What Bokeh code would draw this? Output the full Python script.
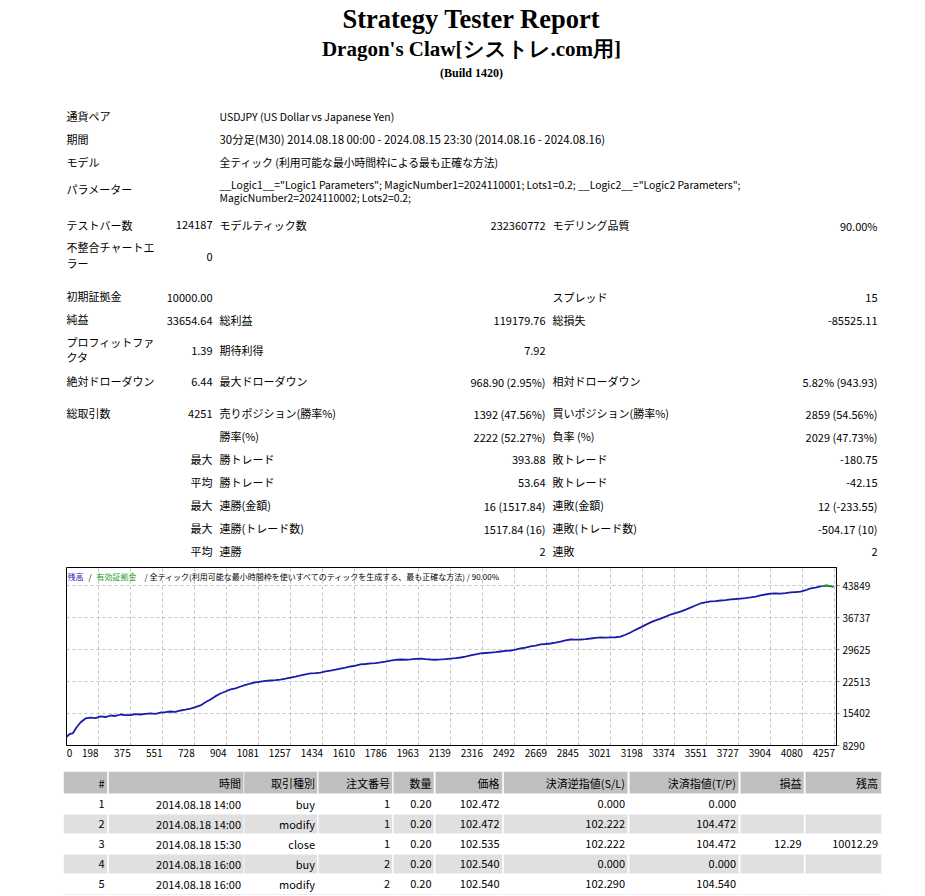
from bokeh.plotting import figure
from bokeh.models import Range1d, FixedTicker, Spacer
from bokeh.layouts import column, row
from bokeh.embed import file_html
from bokeh.resources import INLINE
from bokeh.core.properties import value

JP = "Noto Sans CJK JP"
SERIF = "Liberation Serif"

# ---------------- data ----------------
report_title = "Strategy Tester Report"
report_subtitle = "Dragon's Claw[シストレ.com用]"
report_build = "(Build 1420)"

info_labels = ["通貨ペア", "期間", "モデル", "パラメーター"]
info_pair = "USDJPY (US Dollar vs Japanese Yen)"
info_period = "30分足(M30) 2014.08.18 00:00 - 2024.08.15 23:30 (2014.08.16 - 2024.08.16)"
info_model = "全ティック (利用可能な最小時間枠による最も正確な方法)"
info_params = [
    "__Logic1__=\"Logic1 Parameters\"; MagicNumber1=2024110001; Lots1=0.2; __Logic2__=\"Logic2 Parameters\";",
    "MagicNumber2=2024110002; Lots2=0.2;",
]

col1_labels = ["テストバー数", "不整合チャートエ", "ラー", "初期証拠金", "純益", "プロフィットファ", "クタ",
               "絶対ドローダウン", "総取引数"]
col1_values = ["124187", "0", "10000.00", "33654.64", "1.39", "6.44", "4251",
               "最大", "平均", "最大", "最大", "平均"]
col2_labels = ["モデルティック数", "総利益", "期待利得", "最大ドローダウン", "売りポジション(勝率%)", "勝率(%)",
               "勝トレード", "勝トレード", "連勝(金額)", "連勝(トレード数)", "連勝"]
col2_values = ["232360772", "119179.76", "7.92", "968.90 (2.95%)", "1392 (47.56%)", "2222 (52.27%)",
               "393.88", "53.64", "16 (1517.84)", "1517.84 (16)", "2"]
col3_labels = ["モデリング品質", "スプレッド", "総損失", "相対ドローダウン", "買いポジション(勝率%)", "負率 (%)",
               "敗トレード", "敗トレード", "連敗(金額)", "連敗(トレード数)", "連敗"]
col3_values = ["90.00%", "15", "-85525.11", "5.82% (943.93)", "2859 (54.56%)", "2029 (47.73%)",
               "-180.75", "-42.15", "12 (-233.55)", "-504.17 (10)", "2"]

chart_legend = ["残高", "/", "有効証拠金",
                "/ 全ティック(利用可能な最小時間枠を使いすべてのティックを生成する、最も正確な方法) / 90.00%"]

trade_idx = [0, 20, 40, 55, 75, 98, 125, 153, 180, 208, 235, 263, 290, 318, 345, 373, 400, 428, 455, 483,
             510, 539, 566, 594, 620, 649, 676, 704, 730, 759, 786, 814, 840, 869, 897, 925, 952, 980, 1008,
             1035, 1062, 1090, 1118, 1145, 1172, 1200, 1228, 1256, 1283, 1311, 1338, 1366, 1393, 1421, 1448,
             1476, 1503, 1531, 1558, 1586, 1614, 1642, 1669, 1697, 1724, 1752, 1780, 1807, 1834, 1862, 1890,
             1917, 1945, 1972, 2000, 2028, 2055, 2083, 2110, 2138, 2165, 2193, 2220, 2248, 2276, 2303, 2330,
             2358, 2386, 2414, 2441, 2469, 2496, 2524, 2551, 2579, 2606, 2634, 2662, 2689, 2716, 2744, 2772,
             2800, 2827, 2855, 2882, 2910, 2938, 2965, 2992, 3020, 3048, 3075, 3102, 3130, 3158, 3186, 3213,
             3241, 3268, 3296, 3324, 3351, 3378, 3406, 3434, 3461, 3488, 3516, 3544, 3572, 3599, 3627, 3654,
             3682, 3710, 3737, 3764, 3792, 3820, 3847, 3874, 3902, 3930, 3958, 3985, 4013, 4040, 4068, 4096,
             4123, 4150, 4178, 4195, 4211, 4228, 4244, 4251]
balance = [10000, 10250, 10900, 11000, 12300, 13450, 14300, 14500, 14380, 14750, 14620, 14960, 14850, 15180,
           15020, 15070, 15250, 15180, 15300, 15420, 15330, 15620, 15700, 15850, 15760, 16070, 16250, 16500,
           16800, 17200, 17900, 18500, 19200, 19850, 20300, 20750, 21000, 21400, 21750, 22070, 22300, 22500,
           22650, 22740, 22820, 22950, 23150, 23400, 23600, 23850, 24100, 24300, 24380, 24500, 24750, 24950,
           25150, 25400, 25600, 25850, 26050, 26300, 26400, 26520, 26600, 26750, 26950, 27150, 27300, 27400,
           27350, 27420, 27550, 27620, 27500, 27400, 27350, 27420, 27500, 27620, 27700, 27850, 28050, 28300,
           28550, 28750, 28850, 28950, 29050, 29180, 29300, 29400, 29600, 29850, 30050, 30300, 30500, 30750,
           30850, 30960, 31150, 31400, 31650, 31850, 31800, 31850, 31950, 32070, 32200, 32300, 32250, 32300,
           32350, 32500, 32900, 33400, 34000, 34550, 35100, 35650, 36100, 36500, 36950, 37400, 37700, 38050,
           38500, 38950, 39400, 39850, 40100, 40300, 40400, 40520, 40600, 40750, 40850, 40950, 41050, 41200,
           41400, 41650, 41850, 42050, 42100, 42050, 42150, 42300, 42400, 42500, 42800, 43200, 43400, 43650,
           43750, 43849, 43700, 43600, 43654.64]
equity_idx = [4180, 4200, 4220, 4240, 4251]
equity = [43700, 43820, 43780, 43690, 43654.64]

x_tick_values = [198, 375, 551, 728, 904, 1081, 1257, 1434, 1610, 1786, 1963, 2139, 2316, 2492, 2669,
                 2845, 3021, 3198, 3374, 3551, 3727, 3904, 4080, 4257]
y_tick_values = [8290, 15402, 22513, 29625, 36737, 43849]

table_headers = ["#", "時間", "取引種別", "注文番号", "数量", "価格", "決済逆指値(S/L)", "決済指値(T/P)", "損益", "残高"]
t_no = ["1", "2", "3", "4", "5"]
t_time = ["2014.08.18 14:00", "2014.08.18 14:00", "2014.08.18 15:30", "2014.08.18 16:00", "2014.08.18 16:00"]
t_type = ["buy", "modify", "close", "buy", "modify"]
t_order = ["1", "1", "1", "2", "2"]
t_size = ["0.20", "0.20", "0.20", "0.20", "0.20"]
t_price = ["102.472", "102.472", "102.535", "102.540", "102.540"]
t_sl = ["0.000", "102.222", "102.222", "0.000", "102.290"]
t_tp = ["0.000", "104.472", "104.472", "0.000", "104.540"]
t_profit = ["", "", "12.29", "", ""]
t_balance = ["", "", "10012.29", "", ""]

# ---------------- helpers ----------------
W = 925


def blank(height, ytop):
    p = figure(width=W, height=height, x_range=Range1d(0, W), y_range=Range1d(ytop + height, ytop),
               output_backend="svg", toolbar_location=None, x_axis_location=None, y_axis_location=None,
               min_border=0)
    p.grid.visible = False
    p.outline_line_color = None
    p.background_fill_color = "white"
    p.border_fill_color = "white"
    return p


def txt(p, xs, ys, texts, align="left", size="11px", font=JP, style="normal", color="black", **kw):
    p.text(x=xs, y=ys, text=texts, text_align=align, text_baseline="middle", text_font=value(font),
           text_font_size=size, text_font_style=style, text_color=color, **kw)


# ---------------- header / summary ----------------
p1 = blank(562, 0)
txt(p1, [471], [18], [report_title], "center", "26.5px", SERIF, "bold")
txt(p1, [471], [48], [report_subtitle], "center", "21px", SERIF, "bold")
txt(p1, [471], [72], [report_build], "center", "12px", SERIF, "bold")

txt(p1, [66] * 4, [115.5, 138, 161, 188.5], info_labels)
txt(p1, [219], [115.5], [info_pair], size="10.5px")
txt(p1, [219], [138], [info_period], size="11.4px")
txt(p1, [219], [161], [info_model], size="10.8px")
txt(p1, [219] * 2, [183.5, 197], info_params, size="10.4px")

txt(p1, [66] * 9, [224, 246.5, 262.5, 295.5, 318.5, 341.5, 356.5, 380, 412.5], col1_labels)
txt(p1, [212] * 12, [224.5, 256.5, 297, 320, 350, 381.5, 413.5, 458, 481, 504, 527, 550], col1_values, "right")
y2 = [224, 319, 349, 380, 412.5, 435, 458, 481, 504, 527, 550]
txt(p1, [219] * 11, y2, col2_labels)
txt(p1, [545] * 11, [v + 1 for v in y2], col2_values, "right")
y3 = [224, 296, 319, 380, 412.5, 435, 458, 481, 504, 527, 550]
txt(p1, [552] * 11, y3, col3_labels)
txt(p1, [877] * 11, [v + 1 for v in y3], col3_values, "right")

# ---------------- chart ----------------
SPACER = 60
p2 = figure(width=W - SPACER, height=205, x_range=Range1d(20, 4266), y_range=Range1d(8290, 47850),
            output_backend="svg", toolbar_location=None, y_axis_location="right",
            min_border_left=6, min_border_right=89, min_border_top=5, min_border_bottom=22)
p2.outline_line_color = "black"
p2.outline_line_width = 1
p2.border_fill_color = "white"
p2.xgrid.ticker = FixedTicker(ticks=x_tick_values)
p2.ygrid.ticker = FixedTicker(ticks=y_tick_values[1:])
for g in (p2.xgrid, p2.ygrid):
    g.grid_line_color = "#c0c0c0"
    g.grid_line_dash = "3 3"

# MT4 places each x label just left of its grid line: shift the label anchor by half the label width
UNITS_PER_PX = (4266 - 20) / 770.0
label_pos = [37] + [v - (len(str(v)) * 2.5 + 1) * UNITS_PER_PX for v in x_tick_values]
label_txt = ["0"] + [str(v) for v in x_tick_values]
p2.xaxis.ticker = FixedTicker(ticks=label_pos)
p2.xaxis.major_label_overrides = {k: t for k, t in zip(label_pos, label_txt)}
p2.xaxis.major_tick_out = 0
p2.yaxis.ticker = FixedTicker(ticks=y_tick_values)
p2.yaxis.major_tick_out = 3
for ax in (p2.xaxis, p2.yaxis):
    ax.axis_line_color = "black"
    ax.major_tick_in = 0
    ax.minor_tick_out = 0
    ax.minor_tick_in = 0
    ax.major_tick_line_color = "#808080"
    ax.major_label_text_font = JP
    ax.major_label_text_font_size = "10px"
    ax.major_label_text_color = "black"
    ax.major_label_standoff = 3

p2.line(trade_idx, balance, line_color="#1c1ca8", line_width=1.8)
p2.line(equity_idx, equity, line_color="#20a020", line_width=1.5)

p2.extra_x_ranges = {"px": Range1d(66, 836)}
p2.extra_y_ranges = {"px": Range1d(745, 567)}
txt(p2, [67, 88, 96, 144], [576, 576, 576, 576], chart_legend, "left", "8px",
    color=["#1c1cc0", "black", "#20a020", "black"], x_range_name="px", y_range_name="px")

# ---------------- trade table ----------------
p3 = blank(128, 767)
col_left = [63.3, 108.3, 243.7, 318, 393, 435, 503.3, 629, 740, 805]
col_right = [106.7, 243, 316.7, 391.7, 433.3, 501.7, 627, 738, 803.3, 880.7]
text_right = [104, 240.5, 314.5, 389.5, 431, 499, 624.5, 735.5, 801, 877.5]
p3.quad(left=col_left, right=col_right, top=[771.3] * 10, bottom=[793] * 10,
        fill_color="#c0c0c0", line_color=None)
for i in (1, 3, 5):
    p3.quad(left=col_left, right=col_right, top=[794 + 20 * i] * 10, bottom=[813 + 20 * i] * 10,
            fill_color="#e0e0e0", line_color=None)
txt(p3, text_right, [782] * 10, table_headers, "right", "11px")
cols = [t_no, t_time, t_type, t_order, t_size, t_price, t_sl, t_tp, t_profit, t_balance]
for c, vals in enumerate(cols):
    txt(p3, [text_right[c]] * len(vals), [803.5 + 20 * r for r in range(len(vals))], vals, "right", "11px")

layout = column(p1, row(Spacer(width=SPACER, height=205), p2), p3)
open("out.html", "w").write(file_html(layout, INLINE))
